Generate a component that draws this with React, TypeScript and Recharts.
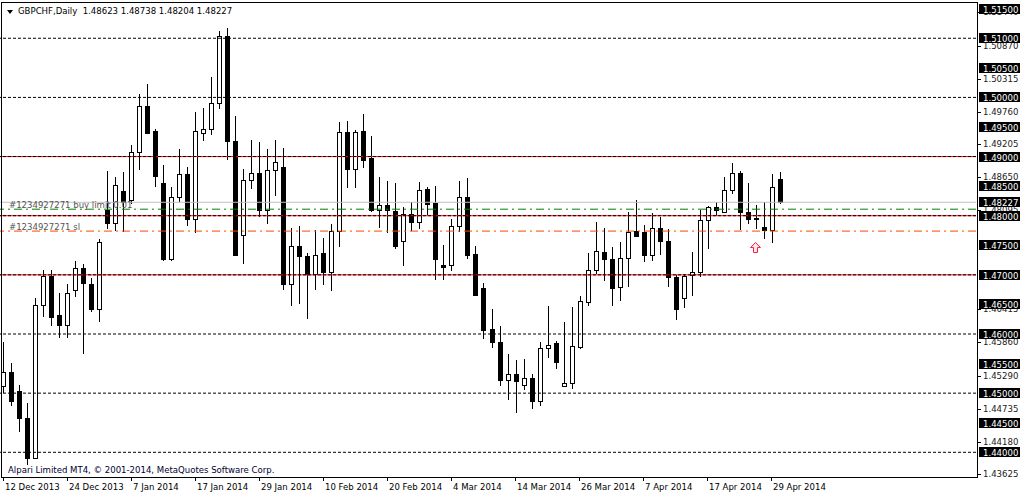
import { ComposedChart, Bar, XAxis, YAxis, ReferenceLine, ReferenceDot } from "recharts";

const opens = [
  1.4512, 1.4535, 1.4503, 1.4458, 1.4390, 1.4649, 1.4698, 1.4632, 1.4616, 1.4675,
  1.4711, 1.4684, 1.4643, 1.4810, 1.4788, 1.4841, 1.4827, 1.4908, 1.4985, 1.4943,
  1.4856, 1.4726, 1.4832, 1.4871, 1.4794, 1.4939, 1.4946, 1.4991, 1.5104, 1.4927,
  1.4768, 1.4861, 1.4872, 1.4810, 1.4878, 1.4883, 1.4685, 1.4749, 1.4732, 1.4702,
  1.4737, 1.4705, 1.4774, 1.4942, 1.4879, 1.4944, 1.4897, 1.4810, 1.4818, 1.4808,
  1.4757, 1.4803, 1.4790, 1.4845, 1.4822, 1.4716, 1.4716, 1.4783, 1.4831, 1.4735,
  1.4677, 1.4608, 1.4586, 1.4523, 1.4532, 1.4513, 1.4525, 1.4486, 1.4576, 1.4584,
  1.4512, 1.4517, 1.4578, 1.4654, 1.4709, 1.4738, 1.4726, 1.4679, 1.4728, 1.4774,
  1.4772, 1.4734, 1.4779, 1.4757, 1.4697, 1.4661, 1.4699, 1.4704, 1.4793, 1.4814,
  1.4807, 1.4843, 1.4873, 1.4807, 1.4796, 1.4781, 1.4776, 1.48623,
];
const highs = [
  1.4587, 1.4551, 1.4514, 1.4483, 1.4661, 1.4709, 1.4708, 1.4670, 1.4684, 1.4723,
  1.4719, 1.4695, 1.4761, 1.4875, 1.4866, 1.4874, 1.4919, 1.5006, 1.5023, 1.4947,
  1.4885, 1.4849, 1.4912, 1.4883, 1.4975, 1.4982, 1.5034, 1.5112, 1.5118, 1.4969,
  1.4879, 1.4928, 1.4925, 1.4912, 1.4928, 1.4914, 1.4780, 1.4782, 1.4737, 1.4775,
  1.4763, 1.4786, 1.4958, 1.4960, 1.4945, 1.4972, 1.4934, 1.4865, 1.4859, 1.4855,
  1.4814, 1.4824, 1.4857, 1.4848, 1.4851, 1.4750, 1.4795, 1.4859, 1.4863, 1.4748,
  1.4687, 1.4642, 1.4614, 1.4566, 1.4556, 1.4558, 1.4533, 1.4586, 1.4647, 1.4589,
  1.4620, 1.4646, 1.4665, 1.4737, 1.4789, 1.4779, 1.4747, 1.4755, 1.4806, 1.4827,
  1.4784, 1.4804, 1.4798, 1.4777, 1.4699, 1.4702, 1.4738, 1.4809, 1.4816, 1.4824,
  1.4866, 1.4889, 1.4876, 1.4855, 1.4818, 1.4824, 1.4871, 1.48738,
];
const lows = [
  1.4500, 1.4478, 1.4434, 1.4379, 1.4388, 1.4629, 1.4614, 1.4593, 1.4593, 1.4663,
  1.4566, 1.4637, 1.4620, 1.4777, 1.4774, 1.4772, 1.4819, 1.4877, 1.4938, 1.4849,
  1.4723, 1.4723, 1.4823, 1.4783, 1.4771, 1.4926, 1.4937, 1.4980, 1.4895, 1.4732,
  1.4719, 1.4845, 1.4797, 1.4786, 1.4833, 1.4675, 1.4647, 1.4650, 1.4626, 1.4674,
  1.4683, 1.4673, 1.4747, 1.4847, 1.4847, 1.4881, 1.4806, 1.4779, 1.4770, 1.4743,
  1.4715, 1.4774, 1.4777, 1.4801, 1.4691, 1.4691, 1.4707, 1.4772, 1.4727, 1.4665,
  1.4592, 1.4577, 1.4512, 1.4488, 1.4467, 1.4506, 1.4474, 1.4479, 1.4560, 1.4541,
  1.4510, 1.4507, 1.4575, 1.4648, 1.4701, 1.4689, 1.4648, 1.4655, 1.4680, 1.4764,
  1.4721, 1.4724, 1.4734, 1.4679, 1.4624, 1.4644, 1.4664, 1.4696, 1.4743, 1.4800,
  1.4807, 1.4837, 1.4775, 1.4786, 1.4777, 1.4761, 1.4754, 1.48204,
];
const closes = [
  1.4535, 1.4486, 1.4458, 1.4390, 1.4649, 1.4698, 1.4628, 1.4616, 1.4669, 1.4711,
  1.4687, 1.4643, 1.4755, 1.4788, 1.4852, 1.4824, 1.4908, 1.4985, 1.4940, 1.4867,
  1.4726, 1.4832, 1.4871, 1.4794, 1.4944, 1.4946, 1.4991, 1.5104, 1.4926, 1.4733,
  1.4861, 1.4872, 1.4810, 1.4878, 1.4890, 1.4685, 1.4749, 1.4732, 1.4701, 1.4734,
  1.4705, 1.4774, 1.4942, 1.4879, 1.4942, 1.4895, 1.4810, 1.4818, 1.4809, 1.4748,
  1.4803, 1.4789, 1.4844, 1.4820, 1.4726, 1.4713, 1.4783, 1.4831, 1.4734, 1.4666,
  1.4607, 1.4586, 1.4523, 1.4532, 1.4520, 1.4525, 1.4486, 1.4576, 1.4582, 1.4552,
  1.4518, 1.4579, 1.4655, 1.4709, 1.4741, 1.4726, 1.4677, 1.4728, 1.4773, 1.4765,
  1.4733, 1.4779, 1.4757, 1.4697, 1.4642, 1.4698, 1.4704, 1.4793, 1.4814, 1.4809,
  1.4843, 1.4873, 1.4806, 1.4795, 1.4795, 1.4776, 1.4849, 1.48227,
];

const dateTicks = [0, 8, 16, 24, 32, 40, 48, 56, 64, 72, 80, 88, 96];
const dateLabels = [
  "12 Dec 2013", "24 Dec 2013", "7 Jan 2014", "17 Jan 2014", "29 Jan 2014",
  "10 Feb 2014", "20 Feb 2014", "4 Mar 2014", "14 Mar 2014", "26 Mar 2014",
  "7 Apr 2014", "17 Apr 2014", "29 Apr 2014",
];

// plain scale labels (the ones fully hidden behind price boxes are left out)
const priceTicks = [
  1.5144, 1.5087, 1.50315, 1.4976, 1.49205, 1.4865, 1.48095,
  1.46415, 1.4586, 1.4529, 1.44735, 1.4418, 1.43625,
];
const priceBoxes = [
  1.515, 1.51, 1.505, 1.5, 1.495, 1.49, 1.485, 1.48227, 1.48,
  1.475, 1.47, 1.465, 1.46, 1.455, 1.45, 1.445, 1.44,
];
const gridLevels = [1.51, 1.5, 1.49, 1.48, 1.47, 1.46, 1.45, 1.44];
const redLevels = [1.49, 1.48, 1.47];
const bidPrice = 1.48227;
const buyLimitPrice = 1.4811;
const stopLossPrice = 1.4774;
const arrowBar = 94;
const arrowPrice = 1.47467;
const emptyBars = 24;

const FONT = "Tahoma, 'DejaVu Sans Condensed', 'Liberation Sans', Arial, sans-serif";

const data = Array.from({ length: opens.length + emptyBars }, (_, i) => ({
  idx: i,
  o: opens[i],
  h: highs[i],
  l: lows[i],
  c: closes[i],
}));

function Candle(props: any) {
  const { x, y, width, height, payload } = props;
  if (payload == null || payload.h == null) return null;
  const top = Math.min(y, y + height);
  const bot = Math.max(y, y + height);
  const py = (p: number) => top + ((payload.h - p) / (payload.h - payload.l)) * (bot - top);
  const cx = Math.floor(x + width / 2) + 0.5;
  const yo = Math.round(py(payload.o));
  const yc = Math.round(py(payload.c));
  const bodyTop = Math.min(yo, yc);
  const bodyBot = Math.max(yo, yc);
  const bull = payload.c > payload.o;
  return (
    <g>
      <line x1={cx} x2={cx} y1={Math.round(top)} y2={Math.round(bot)} stroke="#000" strokeWidth={1} />
      {bodyBot - bodyTop < 1 ? (
        <line x1={cx - 2.5} x2={cx + 2.5} y1={bodyTop + 0.5} y2={bodyTop + 0.5} stroke="#000" />
      ) : bull ? (
        <rect x={cx - 2} y={bodyTop + 0.5} width={4} height={bodyBot - bodyTop} fill="#fff" stroke="#000" strokeWidth={1} />
      ) : (
        <rect x={cx - 2.5} y={bodyTop} width={5} height={bodyBot - bodyTop + 1} fill="#000" />
      )}
    </g>
  );
}

function PriceTick(props: any) {
  const { y, payload } = props;
  const v = payload.value;
  const yy = Math.round(y);
  if (priceBoxes.includes(v)) {
    return (
      <g>
        <rect x={979} y={yy - 5} width={41} height={10} fill="#000" />
        <text x={983} y={yy + 3.5} fill="#fff" fontSize={9.5} fontFamily={FONT}>
          {v.toFixed(5)}
        </text>
      </g>
    );
  }
  return (
    <g>
      <line x1={977} x2={981} y1={yy + 0.5} y2={yy + 0.5} stroke="#000" />
      <text x={983} y={yy + 2.5} fill="#1a1a1a" fontSize={9.5} fontFamily={FONT}>
        {v.toFixed(5)}
      </text>
    </g>
  );
}

function DateTick(props: any) {
  const { x, payload } = props;
  const k = dateTicks.indexOf(payload.value);
  const xx = Math.floor(x) + 0.5;
  return (
    <g>
      <line x1={xx} x2={xx} y1={477} y2={481} stroke="#000" />
      <text x={xx + 1.5} y={490} fill="#000" fontSize={9.5} fontFamily={FONT}>
        {k >= 0 ? dateLabels[k] : ""}
      </text>
    </g>
  );
}

function ArrowUp(props: any) {
  const { cx, cy } = props;
  const x = Math.floor(cx) + 0.5;
  const y = Math.round(cy) + 0.5;
  const d = `M ${x} ${y - 5} L ${x + 5} ${y} L ${x + 2} ${y} L ${x + 2} ${y + 5} L ${x - 2} ${y + 5} L ${x - 2} ${y} L ${x - 5} ${y} Z`;
  return <path d={d} fill="#ffe4ec" stroke="#ff2040" strokeWidth={1} />;
}

const textStyle: React.CSSProperties = {
  position: "absolute",
  fontFamily: FONT,
  fontSize: 9.5,
  lineHeight: "11px",
  whiteSpace: "nowrap",
};

export default function App() {
  return (
    <div style={{ position: "absolute", left: 0, top: 0, width: 1020, height: 495, background: "#fff" }}>
      <ComposedChart
        width={1020}
        height={495}
        data={data}
        margin={{ top: 2, right: 0, bottom: 0, left: -1 }}
        barCategoryGap={0}
      >
        <XAxis
          dataKey="idx"
          type="category"
          ticks={dateTicks}
          interval={0}
          tick={<DateTick />}
          axisLine={false}
          tickLine={false}
          height={18}
        />
        <YAxis
          orientation="right"
          type="number"
          domain={[1.435824, 1.51613]}
          allowDataOverflow
          ticks={[...priceTicks, ...priceBoxes]}
          interval={0}
          tick={<PriceTick />}
          axisLine={false}
          tickLine={false}
          width={44}
        />
        {redLevels.map((v) => (
          <ReferenceLine key={"r" + v} y={v} stroke="#ff0000" strokeWidth={1} />
        ))}
        {gridLevels.map((v) => (
          <ReferenceLine key={"g" + v} y={v} stroke="#000" strokeDasharray="3 2" strokeWidth={1} />
        ))}
        <ReferenceLine y={bidPrice} stroke="#c0c0c0" strokeWidth={1} />
        <ReferenceLine y={buyLimitPrice} stroke="#008000" strokeDasharray="8 4 2 4" strokeWidth={1} />
        <ReferenceLine y={stopLossPrice} stroke="#ff4500" strokeDasharray="8 4 2 4" strokeWidth={1} />
        <Bar
          dataKey={(d: any) => (d.h == null ? null : [d.l, d.h])}
          barSize={5}
          shape={<Candle />}
          isAnimationActive={false}
        />
        <ReferenceDot x={arrowBar} y={arrowPrice} shape={<ArrowUp />} />
      </ComposedChart>

      <div
        style={{
          position: "absolute",
          left: 1,
          top: 2,
          width: 977,
          height: 476,
          boxSizing: "border-box",
          border: "1px solid #000",
          pointerEvents: "none",
        }}
      />
      <div
        style={{
          position: "absolute",
          left: 7,
          top: 10,
          width: 0,
          height: 0,
          borderLeft: "3.5px solid transparent",
          borderRight: "3.5px solid transparent",
          borderTop: "4px solid #000",
        }}
      />
      <div style={{ ...textStyle, left: 18, top: 5, color: "#000" }}>
        GBPCHF,Daily&nbsp; 1.48623 1.48738 1.48204 1.48227
      </div>
      <div style={{ ...textStyle, left: 9, top: 199, color: "#555" }}>#1234927271 buy limit 0.01</div>
      <div style={{ ...textStyle, left: 9, top: 221, color: "#555" }}>#1234927271 sl</div>
      <div style={{ ...textStyle, left: 8, top: 464, color: "#000030" }}>
        Alpari Limited MT4, © 2001-2014, MetaQuotes Software Corp.
      </div>
    </div>
  );
}
